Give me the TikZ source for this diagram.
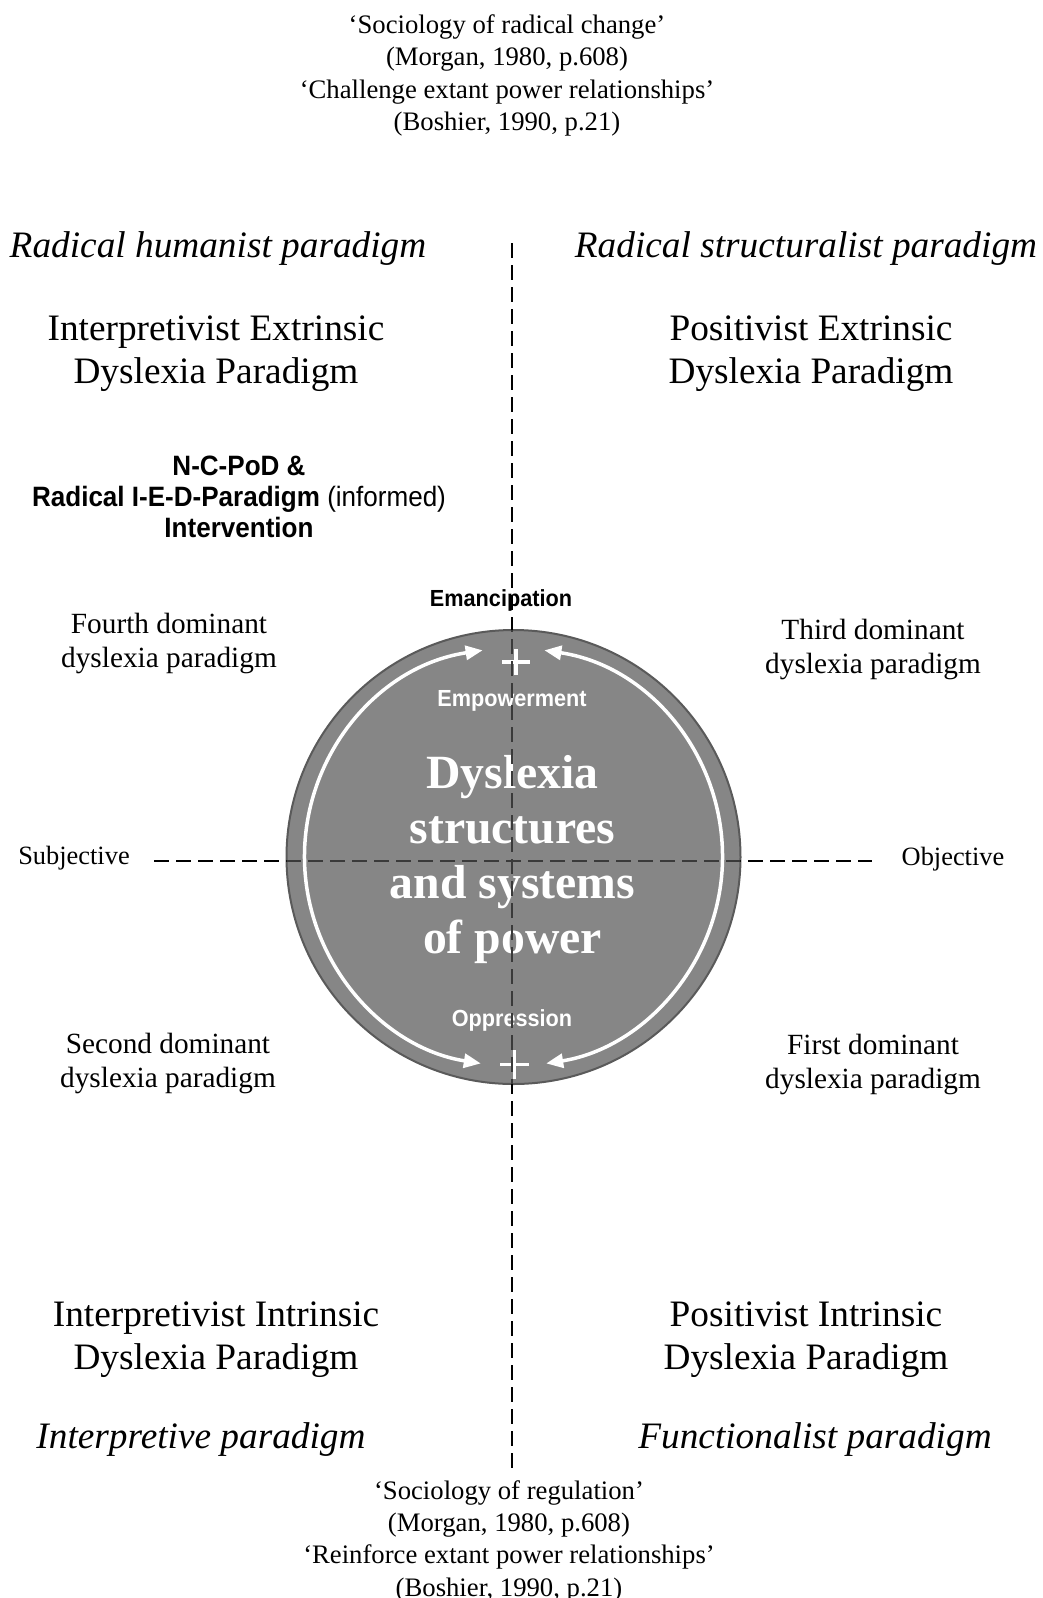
\documentclass[tikz,border=0pt]{standalone}
\usepackage{fontspec}
\setmainfont{Liberation Serif}
\newfontfamily\sansn[FakeStretch=0.93]{Liberation Sans}
\usetikzlibrary{arrows.meta}
\definecolor{circfill}{HTML}{868686}
\definecolor{circedge}{HTML}{5A5A5A}
\definecolor{axisin}{HTML}{3A3A3A}
\newcommand\myfs[2]{\fontsize{#1pt}{#2pt}\selectfont}
\tikzset{
  txt/.style={inner sep=0pt, align=center, text=black},
  quote/.style={txt, font=\myfs{26.7}{32.3}},
  paraname/.style={txt, font=\myfs{37.3}{43}\itshape},
  dysname/.style={txt, font=\myfs{37.3}{43}},
  dominant/.style={txt, font=\myfs{29.3}{34}},
  axislabel/.style={txt, font=\myfs{26.4}{30}},
  polelabel/.style={txt, font=\sansn\bfseries\myfs{23.3}{26}},
  innerlabel/.style={polelabel, text=white},
  centre/.style={inner sep=0pt, align=center, text=white, font=\myfs{47.7}{55}\bfseries},
  ringarrow/.style={draw=white, line width=3.5pt, {Triangle[length=17pt,width=14pt]}-{Triangle[length=17pt,width=14pt]}},
  plusmark/.style={draw=white, line width=3.6pt},
  axisline/.style={line width=2pt, dash pattern=on 15pt off 7pt},
}
\begin{document}
\begin{tikzpicture}[x=1pt,y=-1pt]
\useasboundingbox[fill=white] (0,0) rectangle (1042,1598);
\coordinate (c) at (513.5,857);
\node[circle, minimum size=454pt, inner sep=0pt, fill=circfill, draw=circedge, line width=2pt] (circ) at (c) {};
\draw[ringarrow] ([shift={(-98.5:209)}]c) arc[start angle=-98.5, end angle=-261, radius=209];
\draw[ringarrow] ([shift={(-81.5:209)}]c) arc[start angle=-81.5, end angle=81, radius=209];
\coordinate (pt) at (516,662);
\coordinate (pb) at (514.5,1064.5);
\draw[plusmark] ([xshift=-14pt]pt) -- ([xshift=14pt]pt) ([yshift=-13pt]pt) -- ([yshift=13pt]pt);
\draw[plusmark] ([xshift=-14.5pt]pb) -- ([xshift=14.5pt]pb) ([yshift=-14.5pt]pb) -- ([yshift=14.5pt]pb);

\node[quote] (qtop) at (507,75.5) {‘Sociology of radical change’\\(Morgan, 1980, p.608)\\‘Challenge extant power relationships’\\(Boshier, 1990, p.21)};
\node[quote] (qbot) at (509,1541) {‘Sociology of regulation’\\(Morgan, 1980, p.608)\\‘Reinforce extant power relationships’\\(Boshier, 1990, p.21)};

\node[paraname] (rh) at (218,249) {Radical humanist paradigm};
\node[paraname] (rs) at (806,249) {Radical structuralist paradigm};
\node[paraname] (ip) at (201,1440) {Interpretive paradigm};
\node[paraname] (fp) at (815,1440) {Functionalist paradigm};

\node[dysname] (iex) at (216,354) {Interpretivist Extrinsic\\Dyslexia Paradigm};
\node[dysname] (pex) at (811,354) {Positivist Extrinsic\\Dyslexia Paradigm};
\node[dysname] (iin) at (216,1340) {Interpretivist Intrinsic\\Dyslexia Paradigm};
\node[dysname] (pin) at (806,1340) {Positivist Intrinsic\\Dyslexia Paradigm};

\node[txt, font=\sansn\myfs{28}{31}] (ncpod) at (239,497) {\bfseries N-C-PoD \&\\\textbf{Radical I-E-D-Paradigm} (informed)\\\bfseries Intervention};

\node[dominant] (d4) at (169,643) {Fourth dominant\\dyslexia paradigm};
\node[dominant] (d3) at (873,649) {Third dominant\\dyslexia paradigm};
\node[dominant] (d2) at (168,1063) {Second dominant\\dyslexia paradigm};
\node[dominant] (d1) at (873,1064) {First dominant\\dyslexia paradigm};

\node[axislabel] (subj) at (74,858.5) {Subjective};
\node[axislabel] (obj) at (953,859) {Objective};

\node[polelabel] (eman) at (501,600) {Emancipation};
\node[innerlabel] (empw) at (512,701) {Empowerment};
\node[innerlabel] (oppr) at (512,1020) {Oppression};

\node[centre] (core) at (512.5,859.5) {Dyslexia\\structures\\and systems\\of power};

\coordinate (vt) at (511.5,243);
\coordinate (vb) at (511.5,1468);
\coordinate (hl) at (154,860.5);
\coordinate (hr) at (872,860.5);
\draw[axisline, black] (vt) -- (vb) (hl) -- (hr);
\begin{scope}
\clip (c) circle (227);
\draw[axisline, axisin] (vt) -- (vb) (hl) -- (hr);
\end{scope}
\end{tikzpicture}
\end{document}
